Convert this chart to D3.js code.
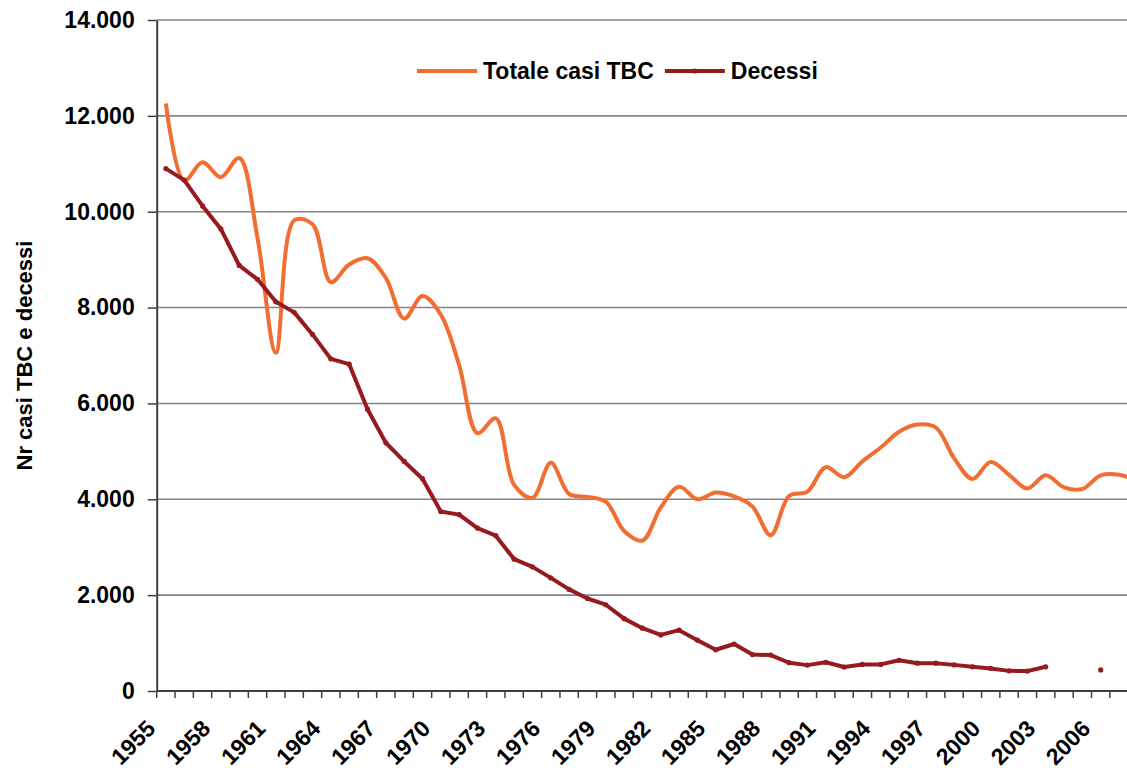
<!DOCTYPE html>
<html>
<head>
<meta charset="utf-8">
<script src="https://cdn.jsdelivr.net/npm/d3@7"></script>
<style>
  body { margin: 0; background: #ffffff; }
  svg text { font-family: "Liberation Sans", Arial, sans-serif; font-weight: bold; fill: #000; }
</style>
</head>
<body>
<svg id="chart" width="1127" height="773"></svg>
<script>
// yearly categories on the x axis, one label every 3 years
const years = d3.range(1955, 2009);
const labelYears = years.filter(y => (y - 1955) % 3 === 0);

// Totale casi TBC, 1955-2008
const totaleCasi = [
  12260, 10650, 11030, 10720, 11120, 9450, 7060, 9820, 9740, 8530,
  8900, 9030, 8620, 7770, 8240, 7850, 6800, 5380, 5690, 4300,
  4030, 4760, 4110, 4050, 3950, 3340, 3140, 3830, 4260, 4000,
  4140, 4060, 3850, 3250, 4070, 4160, 4670, 4460, 4790, 5080,
  5410, 5560, 5500, 4860, 4425, 4780, 4510, 4225, 4500, 4250,
  4215, 4500, 4510, 4380
];

// Decessi, 1955-2008 (null = no data)
const decessi = [
  10900, 10660, 10120, 9640, 8880, 8590, 8120, 7900, 7440, 6930,
  6820, 5880, 5180, 4790, 4430, 3745, 3680, 3400, 3240, 2750,
  2590, 2360, 2120, 1930, 1800, 1510, 1310, 1170, 1270, 1060,
  860, 980, 760, 750, 590, 540, 600, 500, 555, 555,
  640, 580, 580, 545, 505, 470, 420, 415, 505, null,
  null, 440, null, null
];

const yTicks = d3.range(0, 14001, 2000);
const seriesNames = ["Totale casi TBC", "Decessi"];
const seriesColors = ["#F26D31", "#961B1E"];
const yTitle = "Nr casi TBC e decessi";

// layout
const PLOT_LEFT = 156.7;
const PLOT_TOP = 20;
const PLOT_BOTTOM = 691;
const BAND = 18.33;
const PLOT_RIGHT = PLOT_LEFT + BAND * years.length; // runs past the right edge, like the original crop
const FONT_SIZE = 23;

const svg = d3.select("#chart");

const x = d3.scaleBand().domain(years).range([PLOT_LEFT, PLOT_RIGHT]);
const xc = yr => x(yr) + x.bandwidth() / 2;
const y = d3.scaleLinear().domain([0, 14000]).range([PLOT_BOTTOM, PLOT_TOP]);

const itLocale = d3.formatLocale({ decimal: ",", thousands: ".", grouping: [3], currency: ["", " €"] });
const fmt = itLocale.format(",");

// horizontal gridlines
svg.append("g")
  .selectAll("line")
  .data(yTicks.filter(v => v > 0))
  .join("line")
  .attr("x1", PLOT_LEFT)
  .attr("x2", PLOT_RIGHT)
  .attr("y1", d => y(d))
  .attr("y2", d => y(d))
  .attr("stroke", "#858585")
  .attr("stroke-width", 1.6);

// y axis
const yAxis = svg.append("g")
  .attr("transform", `translate(${PLOT_LEFT},0)`)
  .call(d3.axisLeft(y).tickValues(yTicks).tickFormat(fmt).tickSize(9).tickSizeOuter(0).tickPadding(13));
yAxis.select(".domain").attr("stroke", "#404040").attr("stroke-width", 2);
yAxis.selectAll(".tick line").attr("stroke", "#404040").attr("stroke-width", 1.5);
yAxis.selectAll(".tick text").style("font-size", FONT_SIZE + "px");

// x axis: ticks sit between categories, labels under every third year
const xAxis = svg.append("g").attr("transform", `translate(0,${PLOT_BOTTOM})`);
xAxis.selectAll("line.band-tick")
  .data(years.concat([null]))
  .join("line")
  .attr("class", "band-tick")
  .attr("x1", (d, i) => PLOT_LEFT + i * x.step())
  .attr("x2", (d, i) => PLOT_LEFT + i * x.step())
  .attr("y1", 0)
  .attr("y2", 7)
  .attr("stroke", "#404040")
  .attr("stroke-width", 1.5);

const xLabels = xAxis.append("g")
  .call(d3.axisBottom(x).tickValues(labelYears).tickSize(0).tickSizeOuter(0));
xLabels.select(".domain").remove();
xLabels.selectAll(".tick text")
  .attr("x", 0)
  .attr("y", 0)
  .attr("dy", 0)
  .attr("transform", "translate(-9,39) rotate(-45)")
  .style("text-anchor", "end")
  .style("font-size", FONT_SIZE + "px");

xAxis.append("line")
  .attr("x1", PLOT_LEFT)
  .attr("x2", PLOT_RIGHT)
  .attr("stroke", "#404040")
  .attr("stroke-width", 2);

// y axis title
svg.append("text")
  .attr("transform", `translate(32,${(PLOT_TOP + PLOT_BOTTOM) / 2}) rotate(-90)`)
  .style("text-anchor", "middle")
  .style("font-size", "22px")
  .text(yTitle);

// series
const totaleData = years.map((yr, i) => ({ year: yr, value: totaleCasi[i] }));
const decessiData = years.map((yr, i) => ({ year: yr, value: decessi[i] }));

const smoothLine = d3.line()
  .defined(d => d.value != null)
  .x(d => xc(d.year))
  .y(d => y(d.value))
  .curve(d3.curveCatmullRom.alpha(0.5));

const straightLine = d3.line()
  .defined(d => d.value != null)
  .x(d => xc(d.year))
  .y(d => y(d.value));

svg.append("path")
  .datum(totaleData)
  .attr("fill", "none")
  .attr("stroke", seriesColors[0])
  .attr("stroke-width", 4)
  .attr("stroke-linejoin", "round")
  .attr("d", smoothLine);

svg.append("path")
  .datum(decessiData)
  .attr("fill", "none")
  .attr("stroke", seriesColors[1])
  .attr("stroke-width", 4)
  .attr("stroke-linejoin", "round")
  .attr("d", straightLine);

svg.append("g")
  .selectAll("circle")
  .data(decessiData.filter(d => d.value != null))
  .join("circle")
  .attr("cx", d => xc(d.year))
  .attr("cy", d => y(d.value))
  .attr("r", 2.6)
  .attr("fill", seriesColors[1]);

// legend
const legend = svg.append("g").attr("transform", "translate(417,71)");
let legendX = 0;
seriesNames.forEach((name, i) => {
  const item = legend.append("g").attr("transform", `translate(${legendX},0)`);
  item.append("line")
    .attr("x1", 0).attr("x2", 60)
    .attr("stroke", seriesColors[i])
    .attr("stroke-width", 4);
  if (i === 1) {
    item.append("circle").attr("cx", 30).attr("r", 2.6).attr("fill", seriesColors[i]);
  }
  const label = item.append("text")
    .attr("x", 66)
    .attr("y", 8)
    .style("font-size", FONT_SIZE + "px")
    .text(name);
  legendX += 66 + label.node().getComputedTextLength() + 11;
});
</script>
</body>
</html>
